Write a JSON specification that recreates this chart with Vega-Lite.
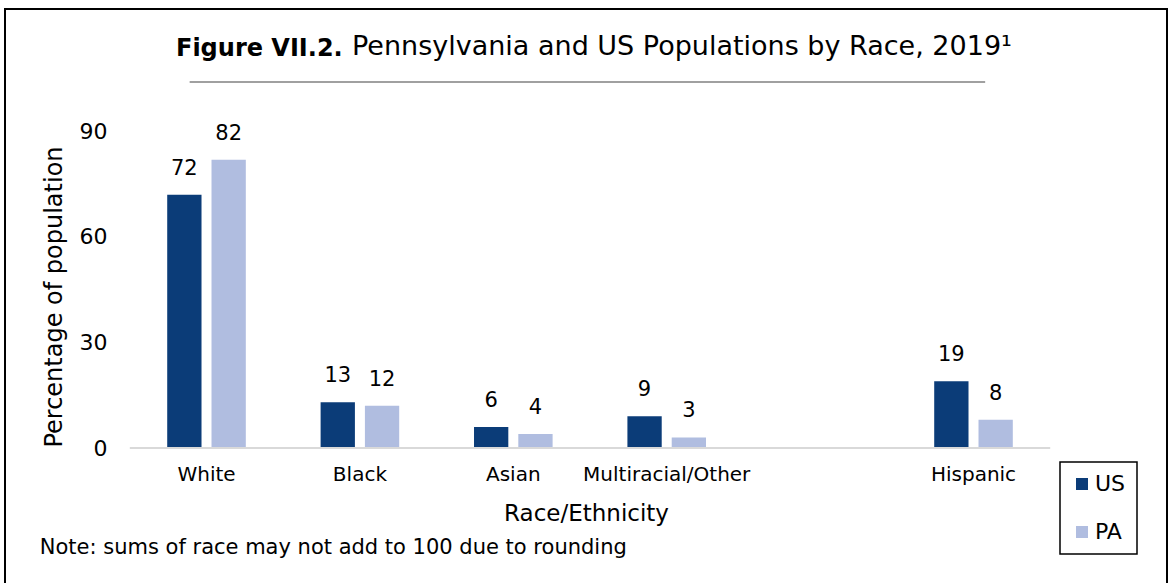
{
  "$schema": "https://vega.github.io/schema/vega-lite/v6.json",
  "width": 1162,
  "height": 575,
  "autosize": {"type": "none"},
  "padding": {"left": 5, "top": 9, "right": 2, "bottom": 0},
  "background": "white",
  "title": {
    "text": "Figure VII.2.",
    "subtitle": "Pennsylvania and US Populations by Race, 2019¹",
    "anchor": "start",
    "frame": "group",
    "orient": "top",
    "offset": -55,
    "dx": 347,
    "encoding": {"dx": {"value": 171}},
    "font": "DejaVu Sans",
    "fontSize": 24,
    "fontWeight": "bold",
    "color": "black",
    "subtitleFont": "DejaVu Sans",
    "subtitleFontSize": 27,
    "subtitleFontWeight": "normal",
    "subtitleColor": "black",
    "subtitlePadding": -26.5
  },
  "data": {
    "values": [
      {"race": "White", "group": "US", "value": 72},
      {"race": "White", "group": "PA", "value": 82},
      {"race": "Black", "group": "US", "value": 13},
      {"race": "Black", "group": "PA", "value": 12},
      {"race": "Asian", "group": "US", "value": 6},
      {"race": "Asian", "group": "PA", "value": 4},
      {"race": "Multiracial/Other", "group": "US", "value": 9},
      {"race": "Multiracial/Other", "group": "PA", "value": 3},
      {"race": "Hispanic", "group": "US", "value": 19},
      {"race": "Hispanic", "group": "PA", "value": 8}
    ]
  },
  "layer": [
    {
      "mark": {"type": "bar"},
      "encoding": {
        "x": {
          "field": "race",
          "type": "nominal",
          "sort": null,
          "scale": {
            "domain": ["White", "Black", "Asian", "Multiracial/Other", " ", "Hispanic"],
            "paddingInner": 0,
            "paddingOuter": 0.7875,
            "align": 0.5166
          },
          "axis": {
            "orient": "bottom",
            "offset": -136,
            "domain": false,
            "ticks": false,
            "tickSize": 0,
            "grid": false,
            "labelAngle": 0,
            "labelPadding": 16,
            "labelFontSize": 20,
            "labelFont": "DejaVu Sans",
            "labelColor": "black",
            "labelLimit": 0,
            "title": "Race/Ethnicity",
            "titleFont": "DejaVu Sans",
            "titleFontSize": 23,
            "titleFontWeight": "normal",
            "titleColor": "black",
            "titlePadding": 18
          }
        },
        "xOffset": {
          "field": "group",
          "type": "nominal",
          "sort": null,
          "scale": {"domain": ["US", "PA"], "paddingInner": 0.2257, "paddingOuter": 0.8443}
        },
        "y": {
          "field": "value",
          "type": "quantitative",
          "scale": {"domain": [-38.67, 124.83], "nice": false, "zero": false},
          "axis": {
            "orient": "left",
            "offset": -102,
            "values": [0, 30, 60, 90],
            "domain": false,
            "ticks": false,
            "tickSize": 0,
            "grid": false,
            "labelPadding": 0,
            "labelFontSize": 22,
            "labelFont": "DejaVu Sans",
            "labelColor": "black",
            "title": "Percentage of population",
            "titleFont": "DejaVu Sans",
            "titleFontSize": 24,
            "titleFontWeight": "normal",
            "titleColor": "black",
            "titlePadding": 13
          }
        },
        "y2": {"datum": 0},
        "color": {
          "field": "group",
          "type": "nominal",
          "scale": {"domain": ["US", "PA"], "range": ["#0b3c78", "#b0bde0"]},
          "legend": {
            "orient": "bottom-right",
            "offset": 30,
            "title": null,
            "symbolType": "square",
            "symbolSize": 144,
            "symbolStrokeWidth": 0,
            "labelFontSize": 22,
            "labelFont": "DejaVu Sans",
            "labelColor": "black",
            "labelOffset": 2,
            "strokeColor": "black",
            "fillColor": "white",
            "padding": 11,
            "rowPadding": 26
          }
        }
      }
    },
    {
      "mark": {"type": "text", "baseline": "alphabetic", "dy": -20, "fontSize": 21, "font": "DejaVu Sans", "color": "black"},
      "encoding": {
        "x": {"field": "race", "type": "nominal", "sort": null},
        "xOffset": {"field": "group", "type": "nominal", "sort": null},
        "y": {"field": "value", "type": "quantitative"},
        "text": {"field": "value", "type": "quantitative"}
      }
    },
    {
      "data": {"values": [{"base": 0}]},
      "mark": {"type": "rule", "color": "#d9d9d9", "strokeWidth": 2},
      "encoding": {
        "x": {"datum": "White", "bandPosition": 0},
        "x2": {"datum": "Hispanic", "bandPosition": 1},
        "y": {"field": "base", "type": "quantitative"}
      }
    },
    {
      "data": {"values": [{"sep": 104.1}]},
      "mark": {"type": "rule", "color": "#808080", "strokeWidth": 1.5},
      "encoding": {
        "x": {"datum": "White", "bandPosition": 0.39},
        "x2": {"datum": "Hispanic", "bandPosition": 0.576},
        "y": {"field": "sep", "type": "quantitative"}
      }
    },
    {
      "data": {"values": [{"note": "Note: sums of race may not add to 100 due to rounding", "ny": -30}]},
      "mark": {"type": "text", "align": "left", "baseline": "alphabetic", "dx": -90, "fontSize": 21, "font": "DejaVu Sans", "color": "black"},
      "encoding": {
        "x": {"datum": "White", "bandPosition": 0},
        "y": {"field": "ny", "type": "quantitative"},
        "text": {"field": "note"}
      }
    }
  ],
  "config": {
    "font": "DejaVu Sans",
    "view": {"stroke": "black", "strokeWidth": 2},
    "legend": {"strokeWidth": 1.5}
  }
}
